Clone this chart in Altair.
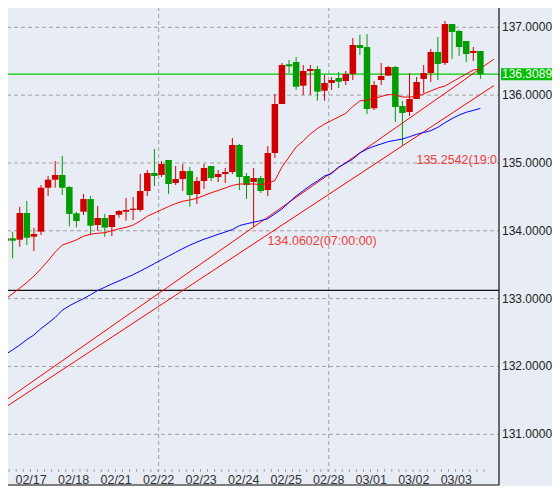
import altair as alt
import pandas as pd

# ---- data (4-hour candles) ----
opens = [133.854, 133.889, 133.869, 134.262, 133.913, 133.987, 134.635, 134.753, 134.823, 134.646,
         134.258, 134.282, 134.469, 134.085, 134.189, 134.056, 134.237, 134.282, 134.307, 134.307,
         134.587, 134.852, 134.823, 135.044, 134.705, 134.764, 134.881, 134.542, 134.734, 134.955,
         134.793, 134.837, 134.867, 135.265, 134.808, 134.719, 134.778, 134.601, 135.147, 135.869,
         136.455, 136.488, 136.139, 136.356, 136.385, 136.065, 136.179, 136.253, 136.208, 136.312,
         136.739, 136.710, 135.806, 136.223, 136.287, 136.415, 135.840, 135.751, 135.943, 136.238,
         136.326, 136.636, 136.474, 137.049, 136.946, 136.798, 136.621, 136.651]
highs = [133.987, 133.987, 134.355, 134.439, 134.041, 134.675, 134.808, 135.029, 135.103, 134.660,
         134.282, 134.542, 134.513, 134.365, 134.248, 134.233, 134.307, 134.483, 134.498, 134.837,
         134.896, 135.206, 135.029, 135.044, 134.955, 134.985, 134.940, 134.793, 134.985, 134.955,
         134.896, 134.926, 135.368, 135.280, 134.852, 134.926, 134.808, 135.250, 136.017, 136.474,
         136.518, 136.562, 136.444, 136.444, 136.430, 136.297, 136.267, 136.341, 136.356, 136.842,
         136.887, 136.901, 136.208, 136.474, 136.430, 136.430, 135.914, 136.326, 136.267, 136.444,
         136.680, 136.857, 137.093, 137.049, 136.960, 136.798, 136.710, 136.651]
lows = [133.643, 133.594, 133.765, 133.790, 133.702, 133.938, 134.513, 134.635, 134.528, 134.065,
        134.050, 134.233, 133.938, 133.997, 133.913, 133.923, 134.193, 134.149, 134.159, 134.282,
        134.513, 134.660, 134.793, 134.542, 134.675, 134.587, 134.355, 134.395, 134.616, 134.734,
        134.719, 134.705, 134.837, 134.601, 134.469, 134.0602, 134.557, 134.513, 135.073, 135.869,
        136.326, 136.076, 136.002, 136.002, 135.918, 135.918, 136.076, 136.105, 136.149, 136.223,
        136.592, 135.722, 135.781, 136.149, 136.287, 135.604, 135.2542, 135.692, 135.943, 136.031,
        136.194, 136.223, 136.444, 136.533, 136.577, 136.488, 136.503, 136.238]
closes = [133.889, 133.854, 134.262, 133.898, 133.953, 134.635, 134.753, 134.823, 134.635, 134.248,
          134.144, 134.469, 134.075, 134.189, 134.046, 134.233, 134.292, 134.307, 134.326, 134.587,
          134.852, 134.808, 134.985, 134.690, 134.764, 134.881, 134.528, 134.734, 134.926, 134.778,
          134.837, 134.867, 135.265, 134.793, 134.675, 134.778, 134.587, 135.147, 135.869, 136.444,
          136.425, 136.124, 136.356, 136.385, 136.051, 136.179, 136.223, 136.198, 136.312, 136.739,
          136.695, 135.796, 136.149, 136.282, 136.415, 135.825, 135.737, 135.943, 136.194, 136.326,
          136.636, 136.459, 137.049, 136.931, 136.710, 136.606, 136.651, 136.3089]

ma_red = [132.994, 133.074, 133.154, 133.238, 133.332, 133.441, 133.558, 133.687, 133.789, 133.826,
          133.866, 133.920, 133.950, 133.964, 133.972, 134.001, 134.029, 134.051, 134.084, 134.144,
          134.214, 134.262, 134.309, 134.358, 134.401, 134.436, 134.454, 134.479, 134.520, 134.560,
          134.595, 134.631, 134.668, 134.690, 134.690, 134.690, 134.682, 134.697, 134.741, 134.940,
          135.088, 135.235, 135.324, 135.427, 135.508, 135.574, 135.626, 135.678, 135.732, 135.832,
          135.914, 135.928, 135.950, 135.980, 136.009, 136.002, 135.972, 135.972, 135.980, 136.017,
          136.061, 136.105, 136.135, 136.194, 136.253, 136.312, 136.371, 136.385]
ma_blue = [132.179, 132.244, 132.316, 132.397, 132.464, 132.559, 132.638, 132.722, 132.829, 132.894,
           132.949, 133.000, 133.058, 133.120, 133.168, 133.216, 133.261, 133.307, 133.353, 133.406,
           133.460, 133.516, 133.572, 133.627, 133.683, 133.737, 133.788, 133.833, 133.876, 133.911,
           133.948, 133.982, 134.018, 134.076, 134.103, 134.127, 134.150, 134.178, 134.250, 134.321,
           134.419, 134.513, 134.590, 134.668, 134.734, 134.808, 134.843, 134.940, 134.996, 135.058,
           135.147, 135.206, 135.246, 135.280, 135.315, 135.334, 135.353, 135.387, 135.422, 135.449,
           135.476, 135.526, 135.594, 135.654, 135.707, 135.747, 135.775, 135.804]

day_labels = ["02/17", "02/18", "02/21", "02/22", "02/23", "02/24", "02/25", "02/28", "03/01", "03/02", "03/03"]
day_pos = [3.6, 9.6, 15.6, 21.6, 27.6, 33.6, 39.6, 45.6, 51.6, 57.6, 63.6]
week_lines = [21.6, 45.6]
y_ticks = [131, 132, 133, 134, 135, 136, 137]

trend_x = [0, 68.9]
trend_upper = [131.50, 136.53]
trend_lower = [131.40, 136.14]

support_level = 133.123
last_price = 136.3089
pivot_idx = [35, 56]
pivot_val = [134.0602, 135.2542]
pivot_text = ["134.0602(07:00:00)", "135.2542(19:0"]

# ---- styling ----
BG = "#e8ecf4"
RED = "#d00000"
GREEN = "#009c00"
FONT = "Liberation Sans"
W, H = 499, 472

n = len(opens)
df = pd.DataFrame({"i": list(range(n)), "open": opens, "high": highs, "low": lows, "close": closes,
                   "ma_red": ma_red, "ma_blue": ma_blue})

xs = alt.Scale(domain=[-0.08, 68.92], nice=False, zero=False)
ys = alt.Scale(domain=[130.444, 137.4025], nice=False, zero=False)

x_axis = alt.Axis(labels=False, ticks=False, grid=False, domain=True, domainColor="#a0a0a0",
                  domainWidth=1, title=None)

base = alt.Chart(df).transform_calculate(dir="datum.close >= datum.open ? 'up' : 'down'")
col = alt.Color("dir:N", scale=alt.Scale(domain=["up", "down"], range=[RED, GREEN]), legend=None)

# price grid + labels (drawn as layers)
yt_df = pd.DataFrame({"v": y_ticks})
y_grid = alt.Chart(yt_df).mark_rule(color="#a0a0a0", strokeDash=[4, 3], strokeWidth=1).encode(
    y=alt.Y("v:Q", scale=ys, axis=None), x=alt.value(0), x2=alt.value(W))
y_lab = alt.Chart(yt_df).transform_calculate(t="format(datum.v, '.4f')").mark_text(
    font=FONT, fontSize=12, color="#222222", align="left", baseline="middle"
).encode(y=alt.Y("v:Q", scale=ys, axis=None), x=alt.value(502), text="t:N")

week_layer = alt.Chart(pd.DataFrame({"x": week_lines})).mark_rule(
    color="#a0a0a0", strokeDash=[4, 3], strokeWidth=1
).encode(x=alt.X("x:Q", scale=xs, axis=x_axis), y=alt.value(0), y2=alt.value(H))

black_line = alt.Chart(pd.DataFrame({"v": [support_level]})).mark_rule(color="#111111", strokeWidth=1.2).encode(
    y=alt.Y("v:Q", scale=ys, axis=None), x=alt.value(0), x2=alt.value(W))

green_line = alt.Chart(pd.DataFrame({"v": [last_price]})).mark_rule(color="#00cc00", strokeWidth=1.2).encode(
    y=alt.Y("v:Q", scale=ys, axis=None), x=alt.value(0), x2=alt.value(W))

tl_df = pd.DataFrame({"x": trend_x * 2, "v": trend_upper + trend_lower, "g": ["u", "u", "l", "l"]})
trend = alt.Chart(tl_df).mark_line(color="#ff0000", strokeWidth=1).encode(
    x=alt.X("x:Q", scale=xs, axis=None), y=alt.Y("v:Q", scale=ys, axis=None), detail="g:N")

wicks = base.mark_rule(strokeWidth=1).encode(
    x=alt.X("i:Q", scale=xs, axis=None), y=alt.Y("low:Q", scale=ys, axis=None), y2="high:Q", color=col)
bodies = base.mark_bar(size=6.5).encode(
    x=alt.X("i:Q", scale=xs, axis=None), y=alt.Y("open:Q", scale=ys, axis=None), y2="close:Q", color=col)

ma_r = base.mark_line(color="#ff0000", strokeWidth=1).encode(
    x=alt.X("i:Q", scale=xs, axis=None), y=alt.Y("ma_red:Q", scale=ys, axis=None))
ma_b = base.mark_line(color="#0000ff", strokeWidth=1).encode(
    x=alt.X("i:Q", scale=xs, axis=None), y=alt.Y("ma_blue:Q", scale=ys, axis=None))

# small tick marks at candle boundaries on the time axis
xticks = base.transform_calculate(tx="datum.i + 0.5").mark_rule(color="#a0a0a0").encode(
    x=alt.X("tx:Q", scale=xs, axis=None), y=alt.value(H - 3), y2=alt.value(H))

day_text = alt.Chart(pd.DataFrame({"x": day_pos, "t": day_labels})).mark_text(
    font=FONT, fontSize=12.5, color="#333333", baseline="middle", align="center"
).encode(x=alt.X("x:Q", scale=xs, axis=None), y=alt.value(479.5), text="t:N")

piv = alt.Chart(pd.DataFrame({"i": pivot_idx, "v": pivot_val, "t": pivot_text})).mark_text(
    font=FONT, fontSize=12.5, color="#f03c3c", align="left", baseline="middle", dx=14, dy=14, clip=True
).encode(x=alt.X("i:Q", scale=xs, axis=None), y=alt.Y("v:Q", scale=ys, axis=None), text="t:N")

price_df = pd.DataFrame({"v": [last_price], "t": [f"{last_price:.4f}"]})
price_box = alt.Chart(price_df).mark_point(
    shape="M-1,-0.235H1V0.235H-1Z", filled=True, size=51 * 51, color="#00c000", opacity=1, strokeWidth=0
).encode(x=alt.value(526.5), y=alt.Y("v:Q", scale=ys, axis=None))
price_txt = alt.Chart(price_df).mark_text(
    font=FONT, fontSize=12, color="white", align="left", baseline="middle"
).encode(x=alt.value(502), y=alt.Y("v:Q", scale=ys, axis=None), text="t:N")

one = alt.Data(values=[{"a": 1}])
frame_r = alt.Chart(one).mark_rule(color="#111111", strokeWidth=1.2).encode(
    x=alt.value(W), y=alt.value(0), y2=alt.value(485))
frame_b = alt.Chart(one).mark_rule(color="#111111", strokeWidth=1.2).encode(
    x=alt.value(0), x2=alt.value(W), y=alt.value(485))

chart = alt.layer(
    week_layer, y_grid, y_lab, black_line, green_line, trend, wicks, bodies, ma_r, ma_b, xticks,
    day_text, piv, price_box, price_txt, frame_r, frame_b
).properties(
    width=W, height=H, background=BG,
    padding={"left": -8, "top": -8, "right": 53, "bottom": 14},
    autosize=alt.AutoSizeParams(type="none")
).configure_view(stroke=None, fill=BG)

chart.save("out.html", embed_options={"renderer": "svg", "actions": False})
